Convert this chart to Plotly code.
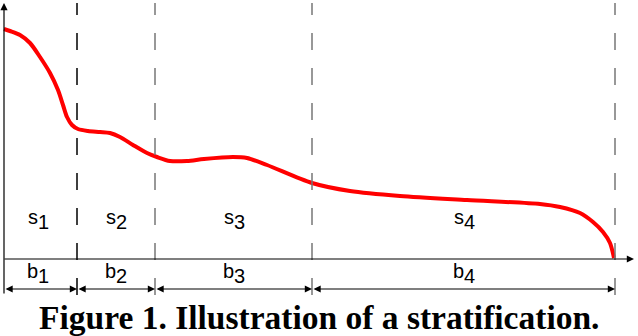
import plotly.graph_objects as go

# curve (x from the origin, y up from the baseline)
curve_x = [0, 6, 16, 26, 36, 46, 54, 59, 63, 68, 74, 84, 96, 106, 116, 129, 143, 153,
           166, 183, 200, 229, 243, 263, 308, 346, 396, 463, 536, 556, 576, 589, 599,
           606, 610]
curve_y = [230, 228, 224, 216, 202, 186, 169, 154, 142, 134, 130, 128, 127, 126, 122, 114,
           106, 102, 98, 98, 100, 102, 101, 94, 76, 68, 63, 59, 55, 52, 46, 37, 27, 16, 1]

bounds = [0, 73, 151, 308, 611]
subscripts = ["1", "2", "3", "4"]
divider_colors = ["black", "#777777", "#777777", "#777777"]

caption = "Figure 1. Illustration of a stratification."

fig = go.Figure()
fig.add_trace(go.Scatter(
    x=curve_x, y=curve_y, mode="lines",
    line=dict(color="#ff0000", width=4, shape="spline", smoothing=0.8),
    hoverinfo="skip", showlegend=False,
))

shapes = []
annotations = []

# dashed dividers
for b, col in zip(bounds[1:], divider_colors):
    shapes.append(dict(type="line", xref="x", yref="y", x0=b, x1=b, y0=-36, y1=256,
                       line=dict(color=col, width=1.5, dash="17px,18px")))

# axes with arrows
annotations.append(dict(x=0, y=256, ax=0, ay=-36, xref="x", yref="y", axref="x", ayref="y",
                        text="", showarrow=True, arrowhead=2, arrowsize=1.2, arrowwidth=1.2,
                        arrowcolor="black", standoff=0))
annotations.append(dict(x=630, y=0, ax=-1, ay=0, xref="x", yref="y", axref="x", ayref="y",
                        text="", showarrow=True, arrowhead=2, arrowsize=1.2, arrowwidth=1.2,
                        arrowcolor="black", standoff=0))

lab_font = dict(family="Liberation Sans, Arial", size=20, color="black")


def label(letter, digit, x, y):
    annotations.append(dict(x=x, y=y, xref="x", yref="y", text=letter, showarrow=False,
                            xanchor="right", xshift=2, font=lab_font))
    annotations.append(dict(x=x, y=y, xref="x", yref="y", text=digit, showarrow=False,
                            xanchor="left", yshift=-5, xshift=-2, font=lab_font))


# dimension arrows and labels
for i in range(4):
    x0, x1 = bounds[i], bounds[i + 1]
    mid = (x0 + x1) / 2
    annotations.append(dict(x=x1, y=-30, ax=x0, ay=-30, xref="x", yref="y", axref="x", ayref="y",
                            text="", showarrow=True, arrowhead=2, startarrowhead=2,
                            arrowside="end+start", arrowsize=1.2, startarrowsize=1.2,
                            arrowwidth=1.2, arrowcolor="black", standoff=0, startstandoff=0))
    label("s", subscripts[i], mid - (3 if i == 0 else 0), 42)
    label("b", subscripts[i], mid - (3 if i == 0 else 0), -12)

annotations.append(dict(x=315, y=-58, xref="x", yref="y", text="<b>" + caption + "</b>",
                        showarrow=False,
                        font=dict(family="Liberation Serif, Times New Roman", size=33.5, color="black")))

fig.update_layout(
    width=638, height=336,
    margin=dict(l=0, r=0, t=0, b=0),
    paper_bgcolor="white", plot_bgcolor="white",
    xaxis=dict(range=[-4, 634], visible=False, fixedrange=True),
    yaxis=dict(range=[-77, 259], visible=False, fixedrange=True),
    shapes=shapes, annotations=annotations,
    showlegend=False,
)

fig.write_html("out.html", config={"displayModeBar": False},
               post_script="document.body.style.margin='0';")
